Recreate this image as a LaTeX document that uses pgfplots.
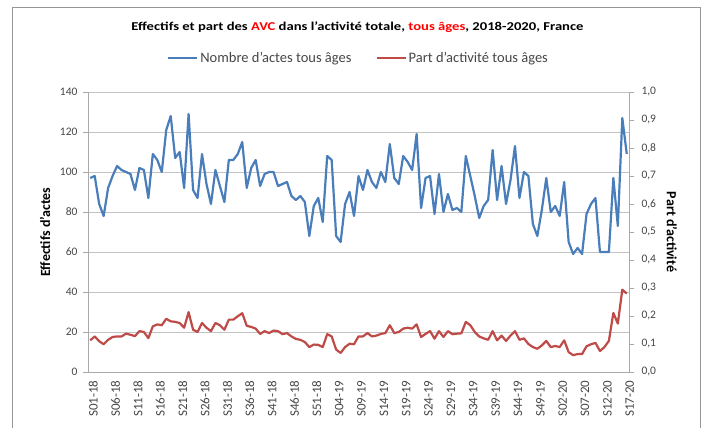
\documentclass[border=0pt]{standalone}
\usepackage{pgfplots}
\usepackage{pgfplotstable}
\pgfplotsset{compat=1.18}
\usepackage{fontspec}
\setmainfont{Carlito}
\definecolor{cBlue}{RGB}{74,126,187}
\definecolor{cRed}{RGB}{190,75,72}
\definecolor{cGrid}{RGB}{195,195,195}
\definecolor{cAxis}{RGB}{170,170,170}
\definecolor{cTxt}{RGB}{70,70,70}
\definecolor{cFrame}{RGB}{150,150,150}

% week index, number of acts, share of activity
\pgfplotstableread{
i n p
0 97 0.113
1 98 0.127
2 84 0.110
3 78 0.099
4 92 0.115
5 98 0.125
6 103 0.127
7 101 0.127
8 100 0.137
9 99 0.133
10 91 0.128
11 102 0.146
12 101 0.143
13 87 0.121
14 109 0.163
15 106 0.170
16 100 0.167
17 121 0.190
18 128 0.181
19 107 0.179
20 110 0.175
21 92 0.158
22 129 0.214
23 91 0.151
24 87 0.143
25 109 0.175
26 94 0.158
27 84 0.146
28 101 0.175
29 93 0.167
30 85 0.151
31 106 0.187
32 106 0.187
33 109 0.199
34 115 0.210
35 92 0.165
36 102 0.161
37 106 0.155
38 93 0.136
39 99 0.146
40 100 0.139
41 100 0.148
42 93 0.146
43 94 0.135
44 95 0.139
45 88 0.127
46 86 0.118
47 88 0.115
48 85 0.107
49 68 0.089
50 83 0.098
51 87 0.097
52 75 0.089
53 108 0.135
54 106 0.127
55 68 0.080
56 65 0.068
57 84 0.089
58 90 0.101
59 78 0.099
60 98 0.127
61 91 0.127
62 101 0.139
63 95 0.127
64 92 0.130
65 100 0.136
66 95 0.139
67 114 0.167
68 97 0.139
69 94 0.143
70 108 0.155
71 105 0.158
72 101 0.155
73 119 0.170
74 82 0.125
75 97 0.136
76 98 0.146
77 79 0.119
78 99 0.146
79 80 0.125
80 89 0.146
81 81 0.135
82 82 0.137
83 80 0.138
84 108 0.179
85 98 0.167
86 88 0.143
87 77 0.127
88 83 0.120
89 86 0.115
90 111 0.146
91 86 0.113
92 103 0.130
93 84 0.111
94 96 0.130
95 113 0.146
96 87 0.115
97 100 0.120
98 98 0.100
99 74 0.089
100 68 0.083
101 81 0.095
102 97 0.111
103 80 0.089
104 83 0.093
105 78 0.089
106 95 0.113
107 65 0.071
108 59 0.060
109 62 0.064
110 59 0.064
111 79 0.092
112 84 0.099
113 87 0.104
114 60 0.075
115 60 0.089
116 60 0.111
117 97 0.211
118 73 0.173
119 127 0.294
120 109 0.280
}\weekdata

\begin{document}
\begin{tikzpicture}
\useasboundingbox (0,0) rectangle (708pt,428pt);
\draw[cFrame] (12pt,0) -- (12pt,421pt) -- (700pt,421pt) -- (700pt,0);
\node[font=\fontsize{12}{14}\selectfont\bfseries, xscale=1.22] at (357.5pt,401pt)
  {Effectifs et part des \textcolor{red}{AVC} dans l'activité totale, \textcolor{red}{tous âges}, 2018-2020, France};

\begin{axis}[
  at={(88pt,56pt)}, anchor=south west, scale only axis,
  width=541pt, height=280pt,
  xmin=-0.5, xmax=120.5, ymin=0, ymax=140,
  axis x line*=bottom, axis y line*=left,
  axis line style={cAxis, -},
  xtick={0,5,...,120},
  xticklabels={S01-18,S06-18,S11-18,S16-18,S21-18,S26-18,S31-18,S36-18,S41-18,S46-18,S51-18,S04-19,S09-19,S14-19,S19-19,S24-19,S29-19,S34-19,S39-19,S44-19,S49-19,S02-20,S07-20,S12-20,S17-20},
  xtick style={draw=none},
  xticklabel style={rotate=90, anchor=east, font=\fontsize{13}{13}\selectfont, text=cTxt, yshift=-3pt},
  ytick={0,20,...,140},
  ytick style={cAxis},
  tick align=outside, major tick length=5pt,
  yticklabel style={font=\fontsize{11.5}{12}\selectfont, text=cTxt, xshift=-2pt},
  /pgf/number format/assume math mode=true,
  ymajorgrids, grid style={cGrid, line width=0.8pt},
  ylabel={Effectifs d'actes},
  ylabel style={at={(axis description cs:-0.0795,0.5)}, anchor=center, font=\fontsize{14}{14}\selectfont\bfseries},
  legend columns=2,
  legend style={at={(0.5,1)}, anchor=center, yshift=34pt, draw=none, fill=none,
    font=\fontsize{14.5}{15}\selectfont, text=cTxt, /tikz/every even column/.append style={column sep=22pt}},
  legend image code/.code={\draw[#1, line width=2.2pt] (0pt,0pt) -- (29pt,0pt);},
]
\addplot[cBlue, line width=2.2pt, line join=round, no marks] table[x=i, y=n] {\weekdata};
\addlegendentry{Nombre d'actes tous âges}
\addlegendimage{cRed}
\addlegendentry{Part d'activité tous âges}
\end{axis}

\begin{axis}[
  at={(88pt,56pt)}, anchor=south west, scale only axis,
  width=541pt, height=280pt,
  xmin=-0.5, xmax=120.5, ymin=0, ymax=1,
  axis x line=none, axis y line*=right,
  axis line style={cAxis, -},
  ytick={0,0.1,...,1.01},
  ytick style={cAxis},
  tick align=outside, major tick length=5pt,
  yticklabel style={font=\fontsize{11.5}{12}\selectfont, text=cTxt, xshift=4pt,
    /pgf/number format/.cd, use comma, fixed, fixed zerofill, precision=1},
  /pgf/number format/assume math mode=true,
  ylabel={Part d'activité},
  ylabel style={at={(axis description cs:1.0795,0.5)}, anchor=center, rotate=180, font=\fontsize{14}{14}\selectfont\bfseries},
]
\addplot[cRed, line width=2.2pt, line join=round, no marks] table[x=i, y=p] {\weekdata};
\end{axis}
\end{tikzpicture}
\end{document}
